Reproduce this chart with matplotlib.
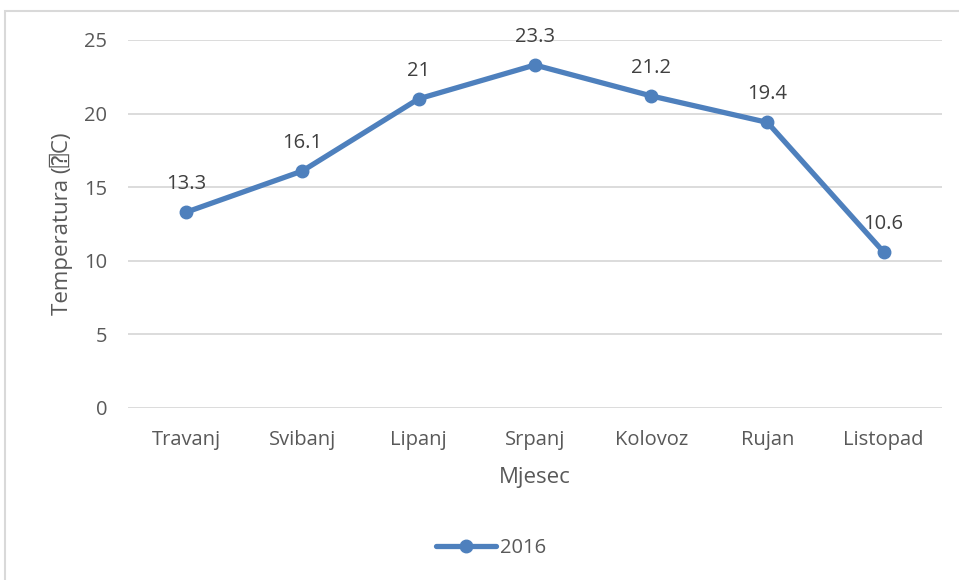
import matplotlib.pyplot as plt
from matplotlib.patches import Rectangle

months = ['Travanj', 'Svibanj', 'Lipanj', 'Srpanj', 'Kolovoz', 'Rujan', 'Listopad']
temps_2016 = [13.3, 16.1, 21, 23.3, 21.2, 19.4, 10.6]
yticks = [0, 5, 10, 15, 20, 25]

blue = '#4E80BD'
grey = '#595959'

plt.rcParams['font.family'] = ['Open Sans', 'DejaVu Sans', 'DejaVu Sans Mono']

fig = plt.figure(figsize=(9.59, 5.80), dpi=100)
fig.patches.append(Rectangle((5 / 959, -0.01), 1.0, 1 - 11 / 580 + 0.01,
                             transform=fig.transFigure, fill=False,
                             edgecolor='#d9d9d9', linewidth=1.5))
ax = fig.add_axes([0.1335, 0.2966, 0.8485, 0.6345])

x = range(len(months))
ax.plot(x, temps_2016, color=blue, linewidth=3.8, marker='o', markersize=9,
        solid_capstyle='round', label='2016')
for i, v in enumerate(temps_2016):
    ax.annotate('{:g}'.format(v), (i, v), xytext=(0, 13), textcoords='offset points',
                ha='center', va='bottom', fontsize=14.5, color='#404040')

ax.set_xlim(-0.5, len(months) - 0.5)
ax.set_ylim(0, 25)
ax.set_yticks(yticks)
ax.set_xticks(list(x))
ax.set_xticklabels(months)
ax.grid(axis='y', color='#d9d9d9', linewidth=1.3)
ax.set_axisbelow(True)
for s in ax.spines.values():
    s.set_visible(False)
ax.tick_params(length=0, labelsize=14.5, colors=grey, pad=16)
ax.tick_params(axis='y', pad=15)
ax.set_xlabel('Mjesec', fontsize=16, color=grey, labelpad=12)
ax.set_ylabel('Temperatura (⍰C)', fontsize=16, color=grey, labelpad=8)

fig.legend(loc='center', bbox_to_anchor=(0.512, 1 - 548 / 580), frameon=False,
           fontsize=14.5, labelcolor=grey, handlelength=3, handletextpad=0.2)

fig.savefig('out.png', dpi=100)
